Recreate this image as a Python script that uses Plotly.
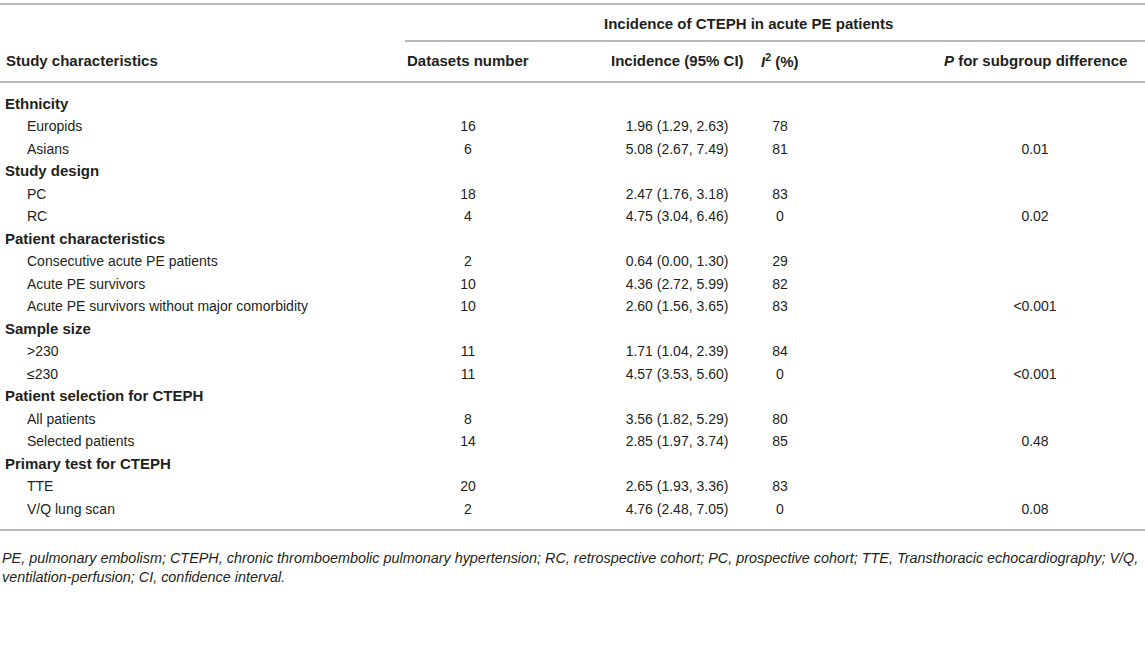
import plotly.graph_objects as go

# table content
groups = ["Ethnicity", "Study design", "Patient characteristics", "Sample size",
          "Patient selection for CTEPH", "Primary test for CTEPH"]
subgroups = [["Europids", "Asians"],
             ["PC", "RC"],
             ["Consecutive acute PE patients", "Acute PE survivors",
              "Acute PE survivors without major comorbidity"],
             [">230", "≤230"],
             ["All patients", "Selected patients"],
             ["TTE", "V/Q lung scan"]]
datasets = [[16, 6], [18, 4], [2, 10, 10], [11, 11], [8, 14], [20, 2]]
incidence = [["1.96 (1.29, 2.63)", "5.08 (2.67, 7.49)"],
             ["2.47 (1.76, 3.18)", "4.75 (3.04, 6.46)"],
             ["0.64 (0.00, 1.30)", "4.36 (2.72, 5.99)", "2.60 (1.56, 3.65)"],
             ["1.71 (1.04, 2.39)", "4.57 (3.53, 5.60)"],
             ["3.56 (1.82, 5.29)", "2.85 (1.97, 3.74)"],
             ["2.65 (1.93, 3.36)", "4.76 (2.48, 7.05)"]]
i2 = [[78, 81], [83, 0], [29, 82, 83], [84, 0], [80, 85], [83, 0]]
p_diff = ["0.01", "0.02", "<0.001", "<0.001", "0.48", "0.08"]

footnote = ("<i>PE, pulmonary embolism; CTEPH, chronic thromboembolic pulmonary hypertension; "
            "RC, retrospective cohort; PC, prospective cohort; TTE, Transthoracic echocardiography; V/Q,"
            "<br>ventilation-perfusion; CI, confidence interval.</i>")

FONT = "Liberation Sans, Arial, sans-serif"
TXT = "#231f20"
LINE = "#a0a0a0"
FS = 14      # body
FH = 15      # bold headings

y_first = 105
step = 22.5

# build row lists
head_y, head_t = [], []
sub_y, sub_t, n_t, inc_t, i2_t = [], [], [], [], []
p_y, p_t = [], []
row = 0
for g, subs, ns, incs, iis, p in zip(groups, subgroups, datasets, incidence, i2, p_diff):
    head_y.append(y_first + row * step)
    head_t.append("<b>" + g + "</b>")
    row += 1
    for s, n, inc, ii in zip(subs, ns, incs, iis):
        y = y_first + row * step
        sub_y.append(y)
        sub_t.append(s)
        n_t.append(str(n))
        inc_t.append(inc)
        i2_t.append(str(ii))
        row += 1
    p_y.append(sub_y[-1])
    p_t.append(p)

fig = go.Figure()

def col(xpos, ys, texts, pos, size=FS):
    fig.add_trace(go.Scatter(x=[xpos] * len(ys), y=ys, text=texts, mode="text",
                             textposition=pos, hoverinfo="skip", cliponaxis=False,
                             textfont=dict(family=FONT, size=size, color=TXT)))

col(5, head_y, head_t, "middle right", FH)
col(27, sub_y, sub_t, "middle right")
col(468, sub_y, n_t, "middle center")
col(677, sub_y, inc_t, "middle center")
col(780, sub_y, i2_t, "middle center")
col(1035, p_y, p_t, "middle center")

# header texts
hdr = dict(xref="x", yref="y", showarrow=False, font=dict(family=FONT, size=FH, color=TXT))
fig.add_annotation(x=748, y=23, text="<b>Incidence of CTEPH in acute PE patients</b>", **hdr)
fig.add_annotation(x=4, y=60, text="<b>Study characteristics</b>", xanchor="left", **hdr)
fig.add_annotation(x=468, y=60, text="<b>Datasets number</b>", **hdr)
fig.add_annotation(x=677, y=60, text="<b>Incidence (95% CI)</b>", **hdr)
fig.add_annotation(x=780, y=60, text="<b><i>I</i><sup>2</sup> (%)</b>", **hdr)
fig.add_annotation(x=1035, y=60, text="<b><i>P</i> for subgroup difference</b>", **hdr)
fig.add_annotation(x=0, y=567, text=footnote, xanchor="left", align="left",
                   xref="x", yref="y", showarrow=False,
                   font=dict(family=FONT, size=14.4, color=TXT))

# rules
for x0, yv in [(0, 4), (405, 41), (0, 82), (0, 530)]:
    fig.add_shape(type="line", x0=x0, x1=1145, y0=yv, y1=yv, xref="x", yref="y",
                  line=dict(color=LINE, width=1.5))

fig.update_layout(width=1145, height=650, margin=dict(l=0, r=0, t=0, b=0),
                  plot_bgcolor="white", paper_bgcolor="white", showlegend=False,
                  xaxis=dict(range=[0, 1145], visible=False, fixedrange=True),
                  yaxis=dict(range=[650, 0], visible=False, fixedrange=True))

# drop the default 8px page margin so the figure fills the window
fig.write_html("out.html", config={"displayModeBar": False},
               post_script="document.body.style.margin='0';")
